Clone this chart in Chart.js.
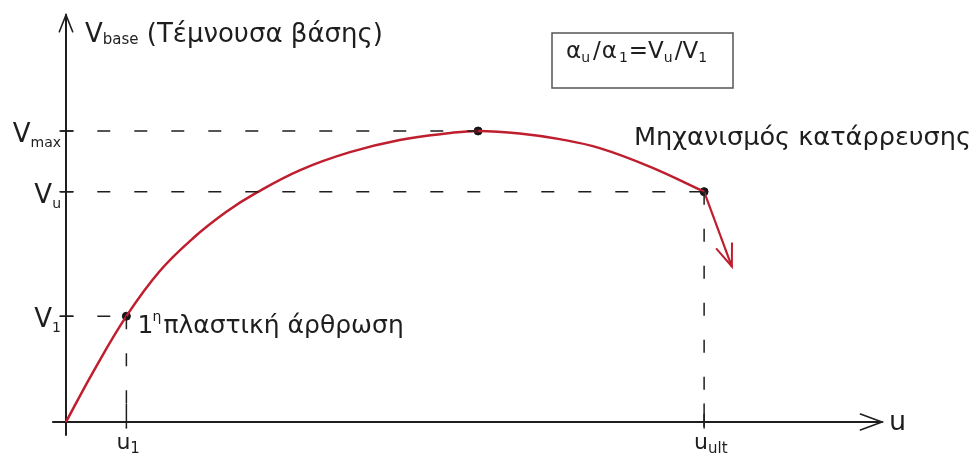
<!DOCTYPE html>
<html>
<head>
<meta charset="utf-8">
<script src="https://cdn.jsdelivr.net/npm/chart.js@4.4.1/dist/chart.umd.min.js"></script>
<style>
  html, body { margin: 0; padding: 0; background: #fff; }
</style>
</head>
<body>
<canvas id="pushover" width="972" height="457"></canvas>
<script>
// capacity curve (arbitrary units)
const curveU = [0, 3.3, 7.4, 11.5, 15.6, 19.7, 23.4, 28.7, 34.8, 40.9, 47.1, 50.5, 55.6, 60.5, 65.4, 71.6, 78.2];
const curveV = [0, 12.2, 26.0, 37.1, 45.2, 51.7, 56.4, 61.9, 66.3, 69.3, 71.0, 71.5, 70.9, 69.5, 67.3, 62.7, 56.6];

// drop after the ultimate point
const collapseU = [78.2, 81.6];
const collapseV = [56.6, 38.2];

// marked points: 1st hinge, peak, ultimate
const keyU = [7.4, 50.5, 78.2];
const keyV = [26.0, 71.5, 56.6];

// axis ticks and their labels [main, subscript]
const vTicks = [71.5, 56.6, 26.0];
const vTickLabels = [["V", "max"], ["V", "u"], ["V", "1"]];
const uTicks = [7.4, 78.2];
const uTickLabels = [["u", "1"], ["u", "ult"]];

const FONT = '"DejaVu Sans", "Liberation Sans", sans-serif';
const INK = "#1e1e1e";
const RED = "#bf1e2e";

function xy(us, vs) {
  return us.map((u, i) => ({ x: u, y: vs[i] }));
}

// text made of runs, each [text, isSubscript, extra gap before]
function runsWidth(ctx, parts, size, subSize) {
  let w = 0;
  for (const [t, sub, gap = 0] of parts) {
    ctx.font = (sub ? subSize : size) + "px " + FONT;
    w += gap + ctx.measureText(t).width;
  }
  return w;
}
function drawRuns(ctx, parts, x, y, size, subSize, drop) {
  let cx = x;
  for (const [t, sub, gap = 0] of parts) {
    cx += gap;
    ctx.font = (sub ? subSize : size) + "px " + FONT;
    ctx.fillText(t, cx, sub ? y + drop : y);
    cx += ctx.measureText(t).width;
  }
}
function arrowHead(ctx, tipX, tipY, fromX, fromY, len, spread) {
  const a = Math.atan2(fromY - tipY, fromX - tipX);
  ctx.beginPath();
  ctx.moveTo(tipX + len * Math.cos(a - spread), tipY + len * Math.sin(a - spread));
  ctx.lineTo(tipX, tipY);
  ctx.lineTo(tipX + len * Math.cos(a + spread), tipY + len * Math.sin(a + spread));
  ctx.stroke();
}

// dashed guides: horizontal ones from the V axis, vertical ones down to the u axis
const guides = [];
vTicks.forEach((v, i) => {
  const u = keyU[[1, 2, 0][i]];
  guides.push([{ x: -0.7, y: v }, { x: u, y: v }]);
});
uTicks.forEach((u, i) => {
  const v = keyV[[0, 2][i]];
  guides.push([{ x: u, y: v }, { x: u, y: -1.5 }]);
});

const sketch = {
  id: "sketch",
  beforeDatasetsDraw(chart) {
    const { ctx, scales: { x, y } } = chart;
    const x0 = x.getPixelForValue(0), y0 = y.getPixelForValue(0);
    ctx.save();
    ctx.strokeStyle = INK;
    ctx.lineWidth = 2;
    ctx.lineCap = "round";
    // axes
    ctx.beginPath();
    ctx.moveTo(x.getPixelForValue(-1.6), y0);
    ctx.lineTo(x.getPixelForValue(100), y0);
    ctx.moveTo(x0, y.getPixelForValue(-3.2));
    ctx.lineTo(x0, y.getPixelForValue(100));
    ctx.stroke();
    ctx.lineWidth = 1.6;
    arrowHead(ctx, x.getPixelForValue(100), y0, x0, y0, 23, 0.35);
    arrowHead(ctx, x0, y.getPixelForValue(100), x0, y0, 18, 0.38);
    // small ticks
    ctx.lineWidth = 1.5;
    ctx.beginPath();
    uTicks.forEach(u => {
      const px = x.getPixelForValue(u);
      ctx.moveTo(px, y0 - 18);
      ctx.lineTo(px, y0 + 6);
    });
    vTicks.forEach(v => {
      const py = y.getPixelForValue(v);
      ctx.moveTo(x0 - 6, py);
      ctx.lineTo(x0 + 7, py);
    });
    ctx.stroke();
    ctx.restore();
  },
  afterDatasetsDraw(chart) {
    const { ctx, scales: { x, y } } = chart;
    const x0 = x.getPixelForValue(0), y0 = y.getPixelForValue(0);
    ctx.save();
    ctx.fillStyle = INK;
    ctx.textBaseline = "alphabetic";

    // arrow tip of the collapse branch
    ctx.strokeStyle = RED;
    ctx.lineWidth = 2;
    arrowHead(ctx, x.getPixelForValue(collapseU[1]), y.getPixelForValue(collapseV[1]),
      x.getPixelForValue(collapseU[0]), y.getPixelForValue(collapseV[0]), 24, 0.36);

    // V labels on the left
    vTicks.forEach((v, i) => {
      const parts = [[vTickLabels[i][0], 0], [vTickLabels[i][1], 1]];
      const w = runsWidth(ctx, parts, 26, 14);
      drawRuns(ctx, parts, x0 - 5 - w, y.getPixelForValue(v) + 11, 26, 14, 5);
    });
    // u labels under the axis
    uTicks.forEach((u, i) => {
      const parts = [[uTickLabels[i][0], 0], [uTickLabels[i][1], 1]];
      drawRuns(ctx, parts, x.getPixelForValue(u) - 10, y0 + 27, 22, 15, 4);
    });
    ctx.font = "27px " + FONT;
    ctx.fillText("u", x.getPixelForValue(100) + 7, y0 + 8);

    // vertical axis title
    drawRuns(ctx, [["V", 0], ["base", 1], [" (Τέμνουσα βάσης)", 0]], x0 + 19, 42, 26, 15, 2);

    // annotations
    const hx = x.getPixelForValue(keyU[0]), hy = y.getPixelForValue(keyV[0]);
    ctx.font = "25px " + FONT;
    ctx.fillText("1", hx + 11, hy + 17);
    ctx.font = "14px " + FONT;
    ctx.fillText("η", hx + 26, hy + 5);
    ctx.font = "25px " + FONT;
    ctx.fillText("πλαστική άρθρωση", hx + 37, hy + 17);
    ctx.font = "25.6px " + FONT;
    ctx.fillText("Μηχανισμός κατάρρευσης", 634, 145);

    // ratio box
    ctx.strokeStyle = "#555";
    ctx.lineWidth = 1.5;
    ctx.strokeRect(552, 33, 181, 55);
    drawRuns(ctx, [["α", 0], ["u", 1], ["/", 0, 3], ["α", 0, 1], ["1", 1, 2], ["=", 0, 1], ["V", 0],
      ["u", 1], ["/", 0, 2], ["V", 0], ["1", 1]], 566, 58, 23, 14, 4);
    ctx.restore();
  }
};

new Chart(document.getElementById("pushover"), {
  type: "scatter",
  data: {
    datasets: [
      ...guides.map(g => ({
        data: g,
        showLine: true,
        borderColor: INK,
        borderWidth: 1.5,
        borderDash: [13, 24],
        pointRadius: 0,
        clip: false
      })),
      {
        data: xy(curveU, curveV),
        showLine: true,
        borderColor: RED,
        borderWidth: 2.5,
        tension: 0.4,
        pointRadius: 0,
        clip: false
      },
      {
        data: xy(collapseU, collapseV),
        showLine: true,
        borderColor: RED,
        borderWidth: 2.2,
        pointRadius: 0,
        clip: false
      },
      {
        data: xy(keyU, keyV),
        showLine: false,
        pointRadius: 4,
        pointBackgroundColor: "#151515",
        pointBorderColor: "#151515",
        clip: false
      }
    ]
  },
  options: {
    responsive: false,
    animation: false,
    devicePixelRatio: 1,
    layout: { padding: { left: 66, right: 90, top: 15, bottom: 35 } },
    plugins: { legend: { display: false }, tooltip: { enabled: false } },
    scales: {
      x: { type: "linear", min: 0, max: 100, display: false },
      y: { type: "linear", min: 0, max: 100, display: false }
    }
  },
  plugins: [sketch]
});
</script>
</body>
</html>
